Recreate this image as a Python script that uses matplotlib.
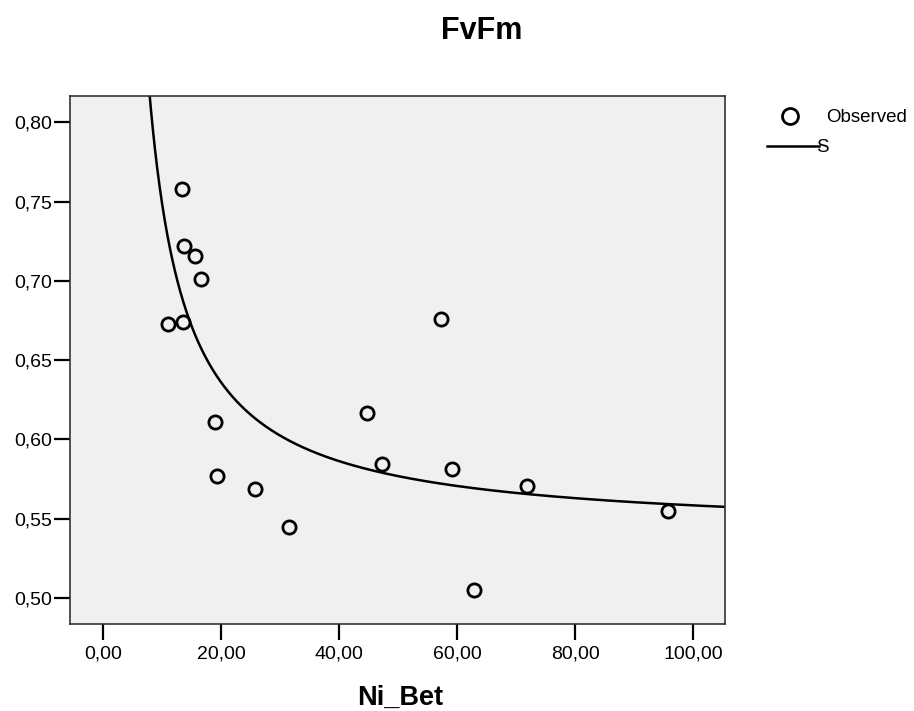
import numpy as np
import matplotlib
matplotlib.use("Agg")
import matplotlib.pyplot as plt
from matplotlib.lines import Line2D
from matplotlib.ticker import FuncFormatter

plt.rcParams['font.family'] = ['Liberation Sans', 'DejaVu Sans']

ni_bet = [13.34, 13.73, 15.49, 16.61, 10.97, 13.56, 18.93, 19.32, 25.71, 31.47,
          57.24, 44.64, 47.29, 59.10, 71.76, 95.76, 62.88]
fvfm = [0.758, 0.722, 0.7155, 0.701, 0.673, 0.674, 0.611, 0.577, 0.569, 0.545,
        0.676, 0.6165, 0.5846, 0.5816, 0.5707, 0.5549, 0.5053]

x_ticks = [0, 20, 40, 60, 80, 100]
y_ticks = [0.50, 0.55, 0.60, 0.65, 0.70, 0.75, 0.80]

W, H = 914, 711
fig = plt.figure(figsize=(W / 100, H / 100), dpi=100)
ax = fig.add_axes([70 / W, 1 - 624 / H, (725 - 70) / W, (624 - 96) / H])
ax.set_facecolor('#F0F0F0')

x = np.asarray(ni_bet)
y = np.asarray(fvfm)
# S model: ln(y) = b0 + b1 / x
b1, b0 = np.polyfit(1.0 / x, np.log(y), 1)
xs = np.linspace(1.0, 106, 2000)
ax.plot(xs, np.exp(b0 + b1 / xs), color='black', lw=1.8, zorder=2)

ax.plot(x, y, linestyle='none', marker='o', markersize=9.5, markerfacecolor='none',
        markeredgecolor='black', markeredgewidth=2.0, zorder=3)

ax.set_xlim(-5.64, 105.4)
ax.set_ylim(0.4836, 0.8166)
ax.set_xticks(x_ticks)
ax.set_yticks(y_ticks)
fmt = FuncFormatter(lambda v, p: f"{v:.2f}".replace('.', ','))
ax.xaxis.set_major_formatter(fmt)
ax.yaxis.set_major_formatter(fmt)
ax.tick_params(axis='both', direction='out', length=11.5, width=1.6, color='black',
               labelsize=14)
ax.tick_params(axis='x', pad=4)
ax.tick_params(axis='y', pad=1.5)
for s in ax.spines.values():
    s.set_color('#333333')
    s.set_linewidth(1.2)

fig.text(482 / W, 1 - 39.3 / H, 'FvFm', ha='center', va='baseline', fontsize=22, fontweight='bold')
fig.text(400 / W, 1 - 705 / H, 'Ni_Bet', ha='center', va='baseline', fontsize=19.5, fontweight='bold')

# legend
fig.add_artist(Line2D([790 / W], [1 - 115.7 / H], marker='o', markersize=11.5, markerfacecolor='none',
                      markeredgecolor='black', markeredgewidth=2.0, transform=fig.transFigure))
fig.text(826 / W, 1 - 121.7 / H, 'Observed', ha='left', va='baseline', fontsize=13.5)
fig.add_artist(Line2D([767 / W, 819 / W], [1 - 146 / H, 1 - 146 / H], color='black', lw=1.8,
                      transform=fig.transFigure))
fig.text(816.5 / W, 1 - 151.7 / H, 'S', ha='left', va='baseline', fontsize=13.5)

fig.savefig('out.png', dpi=100)
